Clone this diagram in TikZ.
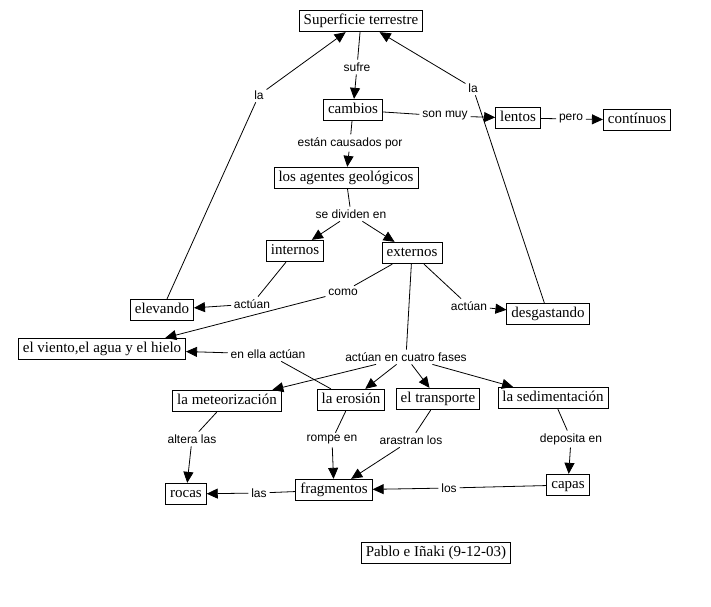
\documentclass[tikz,border=0pt]{standalone}
\usepackage{fontspec}
\setmainfont{Liberation Serif}
\newfontfamily\linkfont{Liberation Sans}
\usetikzlibrary{arrows.meta}
\tikzset{% 
  mapa/.style = {x=1pt, y=-1pt, line width=0.8pt},
  concepto/.style = {shape=rectangle, draw, fill=white,
    font=\fontsize{15}{17}\selectfont,
    text height=11pt, text depth=3.5pt,
    inner xsep=4.5pt, inner ysep=3.5pt},
  enlace/.style = {fill=white, inner sep=2.5pt,
    font=\linkfont\fontsize{12}{14}\selectfont},
  flecha/.style = {draw, -{Triangle[length=11pt,width=10pt]}}
}

\begin{document}
\begin{tikzpicture}[mapa]
  \path[fill=white, use as bounding box] (0,0) rectangle (711,606);
  % conceptos
  \node[concepto] (superficie) at (361,21) {Superficie terrestre};
  \node[concepto] (cambios) at (353,110) {cambios};
  \node[concepto] (lentos) at (518,118) {lentos};
  \node[concepto] (continuos) at (637,120) {contínuos};
  \node[concepto] (agentes) at (346,178) {los agentes geológicos};
  \node[concepto] (internos) at (295,251) {internos};
  \node[concepto] (externos) at (412,253) {externos};
  \node[concepto] (elevando) at (162,310) {elevando};
  \node[concepto] (desgastando) at (548,314) {desgastando};
  \node[concepto] (viento) at (102,349) {el viento,el agua y el hielo};
  \node[concepto] (meteo) at (227,401) {la meteorización};
  \node[concepto] (erosion) at (351,400) {la erosión};
  \node[concepto] (transporte) at (438,399) {el transporte};
  \node[concepto] (sedim) at (553,398) {la sedimentación};
  \node[concepto] (rocas) at (186,494) {rocas};
  \node[concepto] (fragmentos) at (334,490) {fragmentos};
  \node[concepto] (capas) at (568,485) {capas};
  \node[concepto] (autores) at (436,553) {Pablo e Iñaki (9-12-03)};
  % palabras de enlace
  \node[enlace] (sufre) at (357,67) {sufre};
  \node[enlace] (la1) at (259,95) {la};
  \node[enlace] (la2) at (473,88) {la};
  \node[enlace] (sonmuy) at (445,116) {son muy};
  \node[enlace] (pero) at (571,119) {pero};
  \node[enlace] (causados) at (350,143) {están causados por};
  \node[enlace] (dividen) at (351,214) {se dividen en};
  \node[enlace] (actuan1) at (252,304) {actúan};
  \node[enlace] (como) at (343,292) {como};
  \node[enlace] (actuan2) at (469,306) {actúan};
  \node[enlace] (enella) at (268,354) {en ella actúan};
  \node[enlace] (fases) at (406,357) {actúan en cuatro fases};
  \node[enlace] (altera) at (192,439) {altera las};
  \node[enlace] (rompe) at (332,440) {rompe en};
  \node[enlace] (arastran) at (411,440) {arastran los};
  \node[enlace] (deposita) at (571,439) {deposita en};
  \node[enlace] (las) at (259,493) {las};
  \node[enlace] (los) at (449,488) {los};
  % conexiones
  \draw (superficie) -- (sufre);
  \draw[flecha] (sufre) -- (cambios);
  \draw (elevando) -- (la1);
  \draw[flecha] (la1) -- (superficie);
  \draw (desgastando) -- (la2);
  \draw[flecha] (la2) -- (superficie);
  \draw (cambios) -- (sonmuy);
  \draw[flecha] (sonmuy) -- (lentos);
  \draw (lentos) -- (pero);
  \draw[flecha] (pero) -- (continuos);
  \draw (cambios) -- (causados);
  \draw[flecha] (causados) -- (agentes);
  \draw (agentes) -- (dividen);
  \draw[flecha] (dividen) -- (internos);
  \draw[flecha] (dividen) -- (externos);
  \draw (internos) -- (actuan1);
  \draw[flecha] (actuan1) -- (elevando);
  \draw (externos) -- (como);
  \draw[flecha] (como) -- (viento.10);
  \draw (externos) -- (actuan2);
  \draw[flecha] (actuan2) -- (desgastando);
  \draw (erosion) -- (enella);
  \draw[flecha] (enella) -- (viento);
  \draw (externos) -- (fases);
  \draw[flecha] (fases) -- (meteo);
  \draw[flecha] (fases) -- (erosion);
  \draw[flecha] (fases) -- (transporte);
  \draw[flecha] (fases) -- (sedim);
  \draw (meteo) -- (altera);
  \draw[flecha] (altera) -- (rocas);
  \draw (erosion) -- (rompe);
  \draw[flecha] (rompe) -- (fragmentos);
  \draw (transporte) -- (arastran);
  \draw[flecha] (arastran) -- (fragmentos);
  \draw (sedim) -- (deposita);
  \draw[flecha] (deposita) -- (capas);
  \draw (fragmentos) -- (las);
  \draw[flecha] (las) -- (rocas);
  \draw (capas) -- (los);
  \draw[flecha] (los) -- (fragmentos);
\end{tikzpicture}
\end{document}
